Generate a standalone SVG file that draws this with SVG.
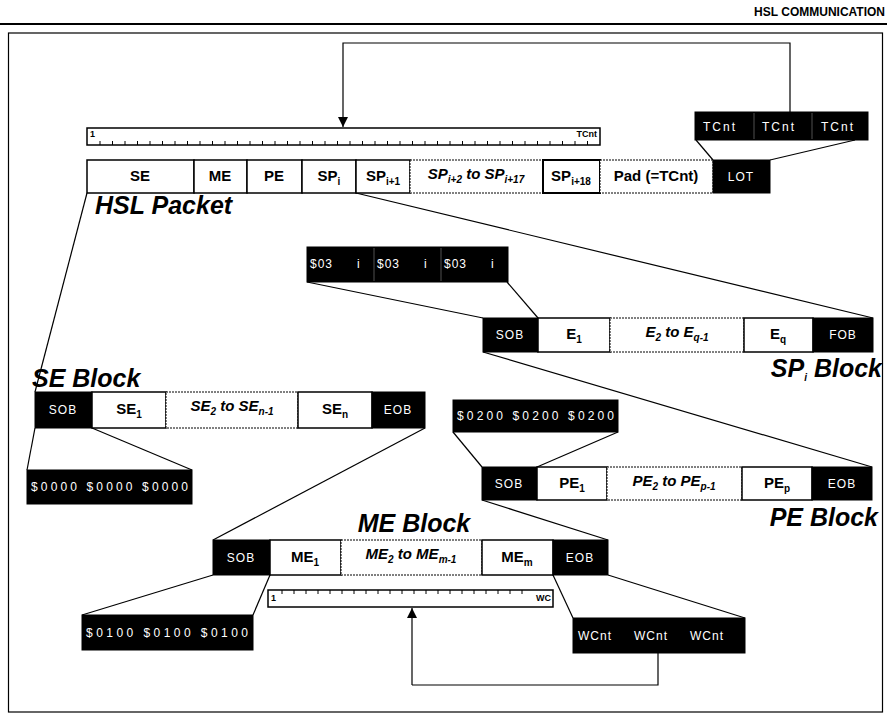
<svg xmlns="http://www.w3.org/2000/svg" width="887" height="726" viewBox="0 0 887 726">
<defs>
<style>
text{font-family:"Liberation Sans",Arial,sans-serif}
.hd{font-size:12px;font-weight:bold;text-anchor:end}
.lb{font-size:15px;font-weight:bold;text-anchor:middle}
.it{font-size:15px;font-style:italic;font-weight:bold;text-anchor:middle}
.wt{font-size:12px;fill:#fff;letter-spacing:1px}
.wc{font-size:12px;fill:#fff;text-anchor:middle;letter-spacing:1px}
.bt{font-size:25px;font-weight:bold;font-style:italic}
.sm{font-size:9px;font-weight:bold}
.sub{font-size:10px}
.box{fill:#fff;stroke:#000;stroke-width:1.5}
.dot{fill:#fff;stroke:#000;stroke-width:1;stroke-dasharray:2 1}
.blk{fill:#000;stroke:#000}
.ln{stroke:#000;stroke-width:1.2;fill:none}
.tk{stroke:#000;stroke-width:1}
.sep{stroke:#888;stroke-width:0.6}
</style>
<marker id="ah" markerWidth="12" markerHeight="12" refX="10" refY="5" orient="auto" markerUnits="userSpaceOnUse">
<path d="M0,0 L10,5 L0,10 Z" fill="#000"/>
</marker>
</defs>
<rect width="887" height="726" fill="#fff"/>
<text class="hd" x="885" y="16">HSL COMMUNICATION</text>
<line x1="0" y1="24" x2="887" y2="24" stroke="#000" stroke-width="2"/>
<rect x="8.5" y="33" width="874" height="679" fill="none" stroke="#000" stroke-width="1.2"/>

<g id="connectors">
<path class="ln" d="M790,112 V43 H343 V127" marker-end="url(#ah)"/>
<path class="ln" d="M412,685 V608" marker-end="url(#ah)"/>
<path class="ln" d="M658,653 V685 H412"/>
<line class="ln" x1="696" y1="140" x2="713" y2="160"/>
<line class="ln" x1="855" y1="140" x2="770" y2="160"/>
<line class="ln" x1="87" y1="193" x2="35" y2="392"/>
<line class="ln" x1="356" y1="193" x2="873" y2="318"/>
<line class="ln" x1="307" y1="282" x2="483" y2="318"/>
<line class="ln" x1="507" y1="282" x2="538" y2="318"/>
<line class="ln" x1="483" y1="352" x2="872" y2="467"/>
<line class="ln" x1="453" y1="432" x2="482" y2="467"/>
<line class="ln" x1="618" y1="432" x2="537" y2="467"/>
<line class="ln" x1="35" y1="428" x2="27" y2="470"/>
<line class="ln" x1="92" y1="428" x2="192" y2="470"/>
<line class="ln" x1="425" y1="428" x2="213" y2="540"/>
<line class="ln" x1="482" y1="500" x2="608" y2="540"/>
<line class="ln" x1="213" y1="575" x2="82" y2="615"/>
<line class="ln" x1="270" y1="575" x2="253" y2="615"/>
<line class="ln" x1="553" y1="575" x2="573" y2="618"/>
<line class="ln" x1="608" y1="575" x2="745" y2="618"/>
</g>

<g id="tcnt-values">
<rect class="blk" x="695" y="112" width="173" height="28"/>
<line class="sep" x1="754" y1="113" x2="754" y2="139"/>
<line class="sep" x1="812" y1="113" x2="812" y2="139"/>
<text class="wt" x="703" y="131" textLength="33">TCnt</text>
<text class="wt" x="762" y="131" textLength="33">TCnt</text>
<text class="wt" x="821" y="131" textLength="33">TCnt</text>
</g>

<g id="tcnt-ruler">
<rect x="87" y="128" width="513" height="17" fill="#fff" stroke="#000" stroke-width="1.5"/>
<text class="sm" x="90" y="137">1</text>
<text class="sm" x="597" y="137" text-anchor="end">TCnt</text>
<path class="tk" d="M100,145v-4M112.5,145v-4M125,145v-4M137.5,145v-4M150,145v-4M162.5,145v-4M175,145v-4M187.5,145v-4M200,145v-4M212.5,145v-4M225,145v-4M237.5,145v-4M250,145v-4M262.5,145v-4M275,145v-4M287.5,145v-4M300,145v-4M312.5,145v-4M325,145v-4M337.5,145v-4M350,145v-4M362.5,145v-4M375,145v-4M387.5,145v-4M400,145v-4M412.5,145v-4M425,145v-4M437.5,145v-4M450,145v-4M462.5,145v-4M475,145v-4M487.5,145v-4M500,145v-4M512.5,145v-4M525,145v-4M537.5,145v-4M550,145v-4M562.5,145v-4M575,145v-4M587.5,145v-4"/>
</g>

<g id="hsl-packet">
<rect class="box" x="87" y="160" width="107" height="33"/>
<text class="lb" x="140" y="181">SE</text>
<rect class="box" x="194" y="160" width="53" height="33"/>
<text class="lb" x="220" y="181">ME</text>
<rect class="box" x="247" y="160" width="55" height="33"/>
<text class="lb" x="274" y="181">PE</text>
<rect class="box" x="302" y="160" width="54" height="33"/>
<text class="lb" x="329" y="181">SP<tspan class="sub" dy="4">i</tspan></text>
<rect class="box" x="356" y="160" width="54" height="33"/>
<text class="lb" x="383" y="181">SP<tspan class="sub" dy="4">i+1</tspan></text>
<rect class="dot" x="410" y="160" width="133" height="33"/>
<text class="it" x="476" y="179">SP<tspan class="sub" dy="4">i+2</tspan><tspan dy="-4"> to SP</tspan><tspan class="sub" dy="4">i+17</tspan></text>
<rect x="543" y="160" width="57" height="33" fill="#fff" stroke="#000" stroke-width="2"/>
<text class="lb" x="571" y="181">SP<tspan class="sub" dy="4">i+18</tspan></text>
<rect class="dot" x="600" y="160" width="113" height="33"/>
<text class="lb" x="656" y="181">Pad (=TCnt)</text>
<rect class="blk" x="713" y="160" width="57" height="33"/>
<text class="wc" x="741" y="181">LOT</text>
<text class="bt" x="95" y="214" font-size="26">HSL Packet</text>
</g>

<g id="sp-values">
<rect class="blk" x="307" y="247" width="201" height="35"/>
<line class="sep" x1="374" y1="248" x2="374" y2="281"/>
<line class="sep" x1="441" y1="248" x2="441" y2="281"/>
<text class="wt" x="310" y="268">$03 <tspan x="357">i</tspan></text>
<text class="wt" x="377" y="268">$03 <tspan x="424">i</tspan></text>
<text class="wt" x="444" y="268">$03 <tspan x="491">i</tspan></text>
</g>

<g id="sp-block">
<rect class="blk" x="483" y="318" width="55" height="34"/>
<text class="wc" x="510" y="339">SOB</text>
<rect class="box" x="538" y="318" width="72" height="34"/>
<text class="lb" x="574" y="339">E<tspan class="sub" dy="4">1</tspan></text>
<rect class="dot" x="610" y="318" width="134" height="34"/>
<text class="it" x="677" y="337">E<tspan class="sub" dy="4">2</tspan><tspan dy="-4"> to E</tspan><tspan class="sub" dy="4">q-1</tspan></text>
<rect class="box" x="744" y="318" width="69" height="34"/>
<text class="lb" x="778" y="339">E<tspan class="sub" dy="4">q</tspan></text>
<rect class="blk" x="813" y="318" width="60" height="34"/>
<text class="wc" x="843" y="339">FOB</text>
<text class="bt" x="882" y="377" text-anchor="end" font-size="23">SP<tspan class="sub" font-size="13" dy="4">i</tspan><tspan dy="-4"> Block</tspan></text>
</g>

<g id="se-block">
<text class="bt" x="32" y="387">SE Block</text>
<rect class="blk" x="35" y="392" width="57" height="36"/>
<text class="wc" x="63" y="414">SOB</text>
<rect class="box" x="92" y="392" width="74" height="36"/>
<text class="lb" x="129" y="414">SE<tspan class="sub" dy="4">1</tspan></text>
<rect class="dot" x="166" y="392" width="132" height="36"/>
<text class="it" x="232" y="411">SE<tspan class="sub" dy="4">2</tspan><tspan dy="-4"> to SE</tspan><tspan class="sub" dy="4">n-1</tspan></text>
<rect class="box" x="298" y="392" width="74" height="36"/>
<text class="lb" x="335" y="414">SE<tspan class="sub" dy="4">n</tspan></text>
<rect class="blk" x="372" y="392" width="53" height="36"/>
<text class="wc" x="398" y="414">EOB</text>
</g>

<g id="se-values">
<rect class="blk" x="27" y="470" width="165" height="34"/>
<text class="wt" x="31" y="491" textLength="158">$0000 $0000 $0000</text>
</g>

<g id="pe-values">
<rect class="blk" x="453" y="400" width="165" height="32"/>
<text class="wt" x="457" y="420" textLength="158">$0200 $0200 $0200</text>
</g>

<g id="pe-block">
<rect class="blk" x="482" y="467" width="55" height="33"/>
<text class="wc" x="509" y="488">SOB</text>
<rect class="box" x="537" y="467" width="70" height="33"/>
<text class="lb" x="572" y="488">PE<tspan class="sub" dy="4">1</tspan></text>
<rect class="dot" x="607" y="467" width="135" height="33"/>
<text class="it" x="674" y="486">PE<tspan class="sub" dy="4">2</tspan><tspan dy="-4"> to PE</tspan><tspan class="sub" dy="4">p-1</tspan></text>
<rect class="box" x="742" y="467" width="70" height="33"/>
<text class="lb" x="777" y="488">PE<tspan class="sub" dy="4">p</tspan></text>
<rect class="blk" x="812" y="467" width="60" height="33"/>
<text class="wc" x="842" y="488">EOB</text>
<text class="bt" x="878" y="526" text-anchor="end">PE Block</text>
</g>

<g id="me-block">
<text class="bt" x="414" y="532" text-anchor="middle">ME Block</text>
<rect class="blk" x="213" y="540" width="57" height="35"/>
<text class="wc" x="241" y="562">SOB</text>
<rect class="box" x="270" y="540" width="71" height="35"/>
<text class="lb" x="305" y="562">ME<tspan class="sub" dy="4">1</tspan></text>
<rect class="dot" x="341" y="540" width="141" height="35"/>
<text class="it" x="411" y="559">ME<tspan class="sub" dy="4">2</tspan><tspan dy="-4"> to ME</tspan><tspan class="sub" dy="4">m-1</tspan></text>
<rect class="box" x="482" y="540" width="71" height="35"/>
<text class="lb" x="517" y="562">ME<tspan class="sub" dy="4">m</tspan></text>
<rect class="blk" x="553" y="540" width="55" height="35"/>
<text class="wc" x="580" y="562">EOB</text>
</g>

<g id="wc-ruler">
<rect x="268" y="590" width="285" height="17" fill="#fff" stroke="#000" stroke-width="1.5"/>
<text class="sm" x="271" y="601">1</text>
<text class="sm" x="551" y="601" text-anchor="end">WC</text>
<path class="tk" d="M282,590v4M294,590v4M306,590v4M318,590v4M330,590v4M342,590v4M354,590v4M366,590v4M378,590v4M390,590v4M402,590v4M414,590v4M426,590v4M438,590v4M450,590v4M462,590v4M474,590v4M486,590v4M498,590v4M510,590v4M522,590v4"/>
</g>

<g id="me-values">
<rect class="blk" x="82" y="615" width="171" height="35"/>
<text class="wt" x="86" y="637" textLength="163">$0100 $0100 $0100</text>
</g>

<g id="wcnt-values">
<rect class="blk" x="573" y="618" width="172" height="35"/>
<text class="wt" x="578" y="640">WCnt</text>
<text class="wt" x="634" y="640">WCnt</text>
<text class="wt" x="690" y="640">WCnt</text>
</g>
</svg>
